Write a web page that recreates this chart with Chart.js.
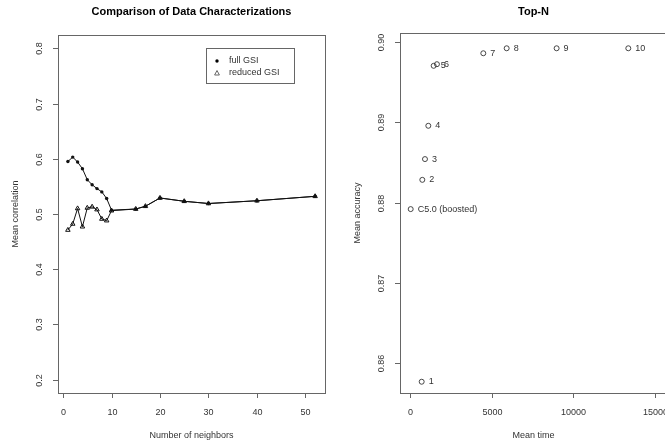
<!DOCTYPE html>
<html lang="en">
<head>
    <meta charset="UTF-8">
    <title>Comparison of Data Characterizations / Top-N</title>
    <style>
        body {
            margin: 0;
            background: white;
            width: 665px;
            height: 446px;
            overflow: hidden;
            position: relative;
        }
        canvas {
            position: absolute;
            top: 0;
        }
        #left { left: 0; }
        #right { left: 340px; }
    </style>
</head>
<body>
    <canvas id="left" width="340" height="446"></canvas>
    <canvas id="right" width="340" height="446"></canvas>

    <script src="https://cdn.jsdelivr.net/npm/chart.js"></script>
    <script>
        // left panel: mean correlation vs number of neighbors
        const neighbors = [1, 2, 3, 4, 5, 6, 7, 8, 9, 10, 15, 17, 20, 25, 30, 40, 52];
        const fullGSI = [0.595, 0.603, 0.594, 0.582, 0.562, 0.553, 0.546, 0.540, 0.528, 0.507,
                         0.509, 0.514, 0.529, 0.523, 0.519, 0.524, 0.532];
        const reducedGSI = [0.471, 0.482, 0.510, 0.477, 0.511, 0.513, 0.508, 0.491, 0.488, 0.506,
                            0.509, 0.514, 0.529, 0.523, 0.519, 0.524, 0.532];
        const leftXTicks = [0, 10, 20, 30, 40, 50];
        const leftYTicks = [0.2, 0.3, 0.4, 0.5, 0.6, 0.7, 0.8];

        // right panel: Top-N accuracy vs time
        const topN = ['1', '2', '3', '4', '5', '6', '7', '8', '9', '10', 'C5.0 (boosted)'];
        const meanTime = [716, 755, 918, 1122, 1450, 1650, 4490, 5920, 8980, 13370, 43];
        const meanAccuracy = [0.85771, 0.88282, 0.88540, 0.88954, 0.89700, 0.89720, 0.89856, 0.89918, 0.89918, 0.89918, 0.87918];
        const rightXTicks = [0, 5000, 10000, 15000];
        const rightYTicks = [0.86, 0.87, 0.88, 0.89, 0.90];

        const FONT = '"Liberation Sans", Arial, sans-serif';

        // draws base-R looking box, ticks, labels and titles
        const rStyle = {
            id: 'rStyle',
            afterDraw(chart, args, o) {
                const ctx = chart.ctx;
                const a = chart.chartArea;
                const x = chart.scales.x, y = chart.scales.y;
                ctx.save();
                ctx.strokeStyle = '#666';
                ctx.lineWidth = 1;
                ctx.strokeRect(Math.round(a.left) + 0.5, Math.round(a.top) + 0.5,
                    Math.round(a.right - a.left), Math.round(a.bottom - a.top));

                ctx.fillStyle = '#333';
                ctx.font = '9px ' + FONT;
                ctx.textAlign = 'center';
                ctx.textBaseline = 'middle';
                o.xTicks.forEach((v, i) => {
                    const p = Math.round(x.getPixelForValue(v)) + 0.5;
                    ctx.beginPath();
                    ctx.moveTo(p, a.bottom);
                    ctx.lineTo(p, a.bottom + 5);
                    ctx.stroke();
                    ctx.fillText(o.xLabels[i], p, a.bottom + 20);
                });
                o.yTicks.forEach((v, i) => {
                    const p = Math.round(y.getPixelForValue(v)) + 0.5;
                    ctx.beginPath();
                    ctx.moveTo(a.left, p);
                    ctx.lineTo(a.left - 5, p);
                    ctx.stroke();
                    ctx.save();
                    ctx.translate(a.left - 18, p);
                    ctx.rotate(-Math.PI / 2);
                    ctx.fillText(o.yLabels[i], 0, 0);
                    ctx.restore();
                });

                const cx = (a.left + a.right) / 2;
                const cy = (a.top + a.bottom) / 2;
                ctx.fillText(o.xTitle, cx, a.bottom + 43);
                ctx.save();
                ctx.translate(a.left - o.yTitleOff, cy);
                ctx.rotate(-Math.PI / 2);
                ctx.fillText(o.yTitle, 0, 0);
                ctx.restore();

                ctx.fillStyle = '#000';
                ctx.font = 'bold 11px ' + FONT;
                ctx.fillText(o.title, cx, 12);
                ctx.restore();
            }
        };

        // legend of the left panel
        const gsiLegend = {
            id: 'gsiLegend',
            afterDraw(chart) {
                const ctx = chart.ctx;
                ctx.save();
                ctx.strokeStyle = '#666';
                ctx.lineWidth = 1;
                ctx.strokeRect(206.5, 48.5, 88, 35);
                ctx.fillStyle = '#000';
                ctx.beginPath();
                ctx.arc(217, 61, 1.7, 0, Math.PI * 2);
                ctx.fill();
                ctx.beginPath();
                ctx.moveTo(217, 70.5);
                ctx.lineTo(219.4, 75);
                ctx.lineTo(214.6, 75);
                ctx.closePath();
                ctx.stroke();
                ctx.fillStyle = '#333';
                ctx.font = '9px ' + FONT;
                ctx.textBaseline = 'middle';
                ctx.fillText('full GSI', 229, 61);
                ctx.fillText('reduced GSI', 229, 73);
                ctx.restore();
            }
        };

        // text next to each Top-N point
        const pointText = {
            id: 'pointText',
            afterDatasetsDraw(chart) {
                const ctx = chart.ctx;
                const meta = chart.getDatasetMeta(0);
                ctx.save();
                ctx.fillStyle = '#333';
                ctx.font = '9px ' + FONT;
                ctx.textBaseline = 'middle';
                meta.data.forEach((el, i) => {
                    ctx.fillText(topN[i], el.x + 7, el.y);
                });
                ctx.restore();
            }
        };

        function hiddenScale(min, max, size, horiz) {
            return {
                type: 'linear',
                min: min,
                max: max,
                grid: { display: false },
                border: { display: false },
                ticks: { display: false },
                afterFit(scale) {
                    if (horiz) scale.height = size; else scale.width = size;
                }
            };
        }

        new Chart(document.getElementById('left'), {
            type: 'line',
            data: {
                datasets: [{
                    label: 'full GSI',
                    data: neighbors.map((k, i) => ({ x: k, y: fullGSI[i] })),
                    borderColor: '#111',
                    backgroundColor: '#111',
                    borderWidth: 1,
                    pointStyle: 'circle',
                    pointRadius: 1.7,
                    pointBorderWidth: 0
                }, {
                    label: 'reduced GSI',
                    data: neighbors.map((k, i) => ({ x: k, y: reducedGSI[i] })),
                    borderColor: '#111',
                    backgroundColor: 'rgba(0,0,0,0)',
                    borderWidth: 1,
                    pointStyle: 'triangle',
                    pointRadius: 2.6,
                    pointBorderWidth: 1
                }]
            },
            options: {
                responsive: false,
                animation: false,
                devicePixelRatio: 1,
                layout: { padding: { top: 35, right: 15, left: 0, bottom: 0 } },
                scales: {
                    x: hiddenScale(-1.04, 54.04, 53, true),
                    y: hiddenScale(0.176, 0.824, 58, false)
                },
                plugins: {
                    legend: { display: false },
                    tooltip: { enabled: false },
                    rStyle: {
                        xTicks: leftXTicks,
                        xLabels: leftXTicks.map(String),
                        yTicks: leftYTicks,
                        yLabels: leftYTicks.map(v => v.toFixed(1)),
                        title: 'Comparison of Data Characterizations',
                        xTitle: 'Number of neighbors',
                        yTitle: 'Mean correlation',
                        yTitleOff: 42
                    }
                }
            },
            plugins: [rStyle, gsiLegend]
        });

        new Chart(document.getElementById('right'), {
            type: 'scatter',
            data: {
                labels: topN,
                datasets: [{
                    label: 'Top-N',
                    data: meanTime.map((t, i) => ({ x: t, y: meanAccuracy[i] })),
                    borderColor: '#333',
                    backgroundColor: 'rgba(0,0,0,0)',
                    pointStyle: 'circle',
                    pointRadius: 2.5,
                    pointBorderWidth: 0.9
                }]
            },
            options: {
                responsive: false,
                animation: false,
                devicePixelRatio: 1,
                layout: { padding: { top: 33, right: 13, left: 0, bottom: 0 } },
                scales: {
                    x: hiddenScale(-612, 15740, 53, true),
                    y: hiddenScale(0.85631, 0.90108, 60, false)
                },
                plugins: {
                    legend: { display: false },
                    tooltip: { enabled: false },
                    rStyle: {
                        xTicks: rightXTicks,
                        xLabels: rightXTicks.map(String),
                        yTicks: rightYTicks,
                        yLabels: rightYTicks.map(v => v.toFixed(2)),
                        title: 'Top-N',
                        xTitle: 'Mean time',
                        yTitle: 'Mean accuracy',
                        yTitleOff: 42
                    }
                }
            },
            plugins: [rStyle, pointText]
        });
    </script>
</body>
</html>
